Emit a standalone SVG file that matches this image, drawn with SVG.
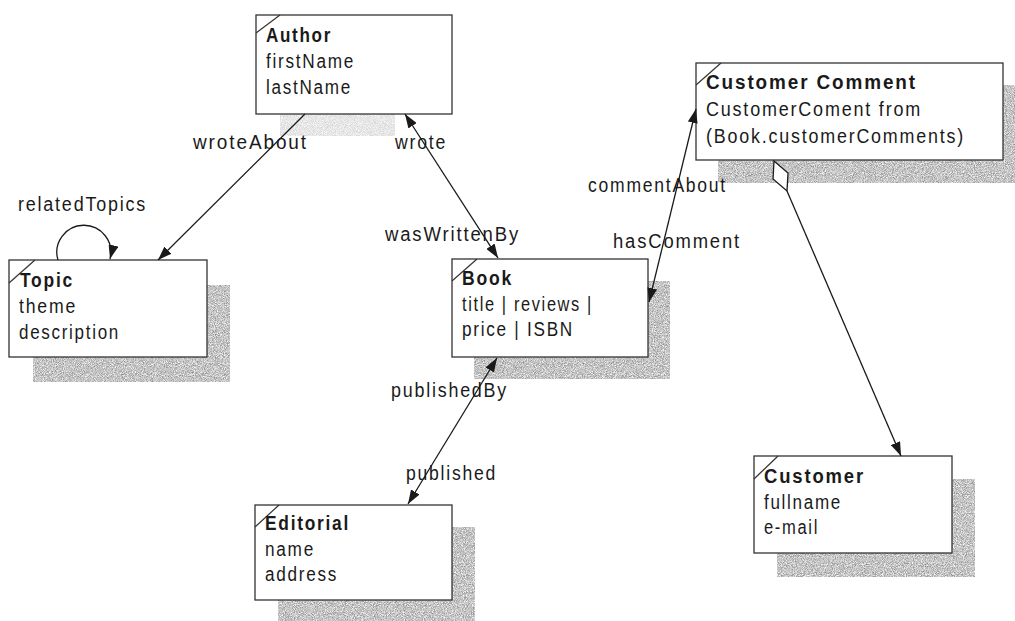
<svg xmlns="http://www.w3.org/2000/svg" width="1015" height="621" viewBox="0 0 1015 621">
  <style>
    text { font-family: "Liberation Sans", Arial, sans-serif; font-size: 20px; letter-spacing: 2px; fill: #1a1a1a; }
    .title { font-weight: bold; }
    .box { fill: #ffffff; stroke: #333333; stroke-width: 1.3; }
    .corner { stroke: #333333; stroke-width: 1.2; fill: none; }
    .shadow { fill: #000000; filter: url(#grain); }
    .edge { stroke: #1a1a1a; stroke-width: 1.3; fill: none; }
    .diamond { fill: #ffffff; stroke: #1a1a1a; stroke-width: 1.3; }
  </style>
  <defs>
    <!-- stippled halftone texture for drop shadows -->
    <filter id="grain" x="0" y="0" width="100%" height="100%" color-interpolation-filters="sRGB">
      <feTurbulence type="fractalNoise" baseFrequency="1.1" numOctaves="2" seed="5" result="noise"/>
      <feColorMatrix in="noise" type="matrix" values="0.7 0 0 0 0.42  0.7 0 0 0 0.42  0.7 0 0 0 0.42  0 0 0 0 1" result="dots"/>
      <feComposite in="dots" in2="SourceGraphic" operator="in"/>
    </filter>
    <marker id="arrow" viewBox="0 0 14 10" refX="14" refY="5" markerWidth="14" markerHeight="10" markerUnits="userSpaceOnUse" orient="auto-start-reverse">
      <path d="M0,0 L14,5 L0,10 z" fill="#1a1a1a"/>
    </marker>
  </defs>

  <rect width="1015" height="621" fill="#ffffff"/>

  <!-- Author -->
  <g id="author">
    <rect class="shadow" x="280" y="114" width="115" height="22" opacity="0.4"/>
    <rect class="box" x="256" y="15" width="196" height="99"/>
    <line class="corner" x1="256" y1="33" x2="280" y2="15"/>
    <text class="title" x="266" y="42" textLength="66" lengthAdjust="spacingAndGlyphs">Author</text>
    <text x="266" y="68" textLength="89" lengthAdjust="spacingAndGlyphs">firstName</text>
    <text x="266" y="94" textLength="86" lengthAdjust="spacingAndGlyphs">lastName</text>
  </g>

  <!-- Topic -->
  <g id="topic">
    <rect class="shadow" x="33" y="285" width="197" height="97"/>
    <rect class="box" x="9" y="260" width="198" height="97"/>
    <line class="corner" x1="9" y1="283" x2="35" y2="260"/>
    <text class="title" x="20" y="287" textLength="54" lengthAdjust="spacingAndGlyphs">Topic</text>
    <text x="19" y="313" textLength="58" lengthAdjust="spacingAndGlyphs">theme</text>
    <text x="19" y="339" textLength="101" lengthAdjust="spacingAndGlyphs">description</text>
  </g>

  <!-- Book -->
  <g id="book">
    <rect class="shadow" x="474" y="281" width="196" height="98"/>
    <rect class="box" x="452" y="259" width="196" height="98"/>
    <line class="corner" x1="452" y1="281" x2="477" y2="259"/>
    <text class="title" x="462" y="285" textLength="51" lengthAdjust="spacingAndGlyphs">Book</text>
    <text x="462" y="311" textLength="131" lengthAdjust="spacingAndGlyphs">title | reviews |</text>
    <text x="462" y="336" textLength="112" lengthAdjust="spacingAndGlyphs">price | ISBN</text>
  </g>

  <!-- Customer Comment -->
  <g id="customer-comment">
    <rect class="shadow" x="718" y="85" width="300" height="98"/>
    <rect class="box" x="696" y="63" width="307" height="97"/>
    <line class="corner" x1="696" y1="85" x2="721" y2="63"/>
    <text class="title" x="706" y="89" textLength="211" lengthAdjust="spacingAndGlyphs">Customer Comment</text>
    <text x="706" y="116" textLength="216" lengthAdjust="spacingAndGlyphs">CustomerComent from</text>
    <text x="706" y="143" textLength="259" lengthAdjust="spacingAndGlyphs">(Book.customerComments)</text>
  </g>

  <!-- Editorial -->
  <g id="editorial">
    <rect class="shadow" x="278" y="527" width="197" height="94"/>
    <rect class="box" x="255" y="505" width="197" height="95"/>
    <line class="corner" x1="255" y1="527" x2="279" y2="505"/>
    <text class="title" x="265" y="530" textLength="85" lengthAdjust="spacingAndGlyphs">Editorial</text>
    <text x="265" y="556" textLength="50" lengthAdjust="spacingAndGlyphs">name</text>
    <text x="265" y="581" textLength="73" lengthAdjust="spacingAndGlyphs">address</text>
  </g>

  <!-- Customer -->
  <g id="customer">
    <rect class="shadow" x="777" y="479" width="198" height="98"/>
    <rect class="box" x="754" y="456" width="198" height="97"/>
    <line class="corner" x1="754" y1="479" x2="778" y2="456"/>
    <text class="title" x="764" y="483" textLength="101" lengthAdjust="spacingAndGlyphs">Customer</text>
    <text x="764" y="509" textLength="78" lengthAdjust="spacingAndGlyphs">fullname</text>
    <text x="764" y="534" textLength="55" lengthAdjust="spacingAndGlyphs">e-mail</text>
  </g>

  <!-- Connectors -->
  <g id="connectors">
    <line class="edge" x1="305" y1="114" x2="158" y2="260" marker-end="url(#arrow)"/>
    <line class="edge" x1="405" y1="114" x2="498" y2="258" marker-start="url(#arrow)" marker-end="url(#arrow)"/>
    <path class="edge" d="M58,260 A27,27 0 1 1 110,259" marker-end="url(#arrow)"/>
    <line class="edge" x1="696" y1="109" x2="649" y2="302" marker-start="url(#arrow)" marker-end="url(#arrow)"/>
    <line class="edge" x1="497" y1="358" x2="408" y2="504" marker-start="url(#arrow)" marker-end="url(#arrow)"/>
    <polygon class="diamond" points="774,161 788,173 787,191 773,179"/>
    <line class="edge" x1="787" y1="191" x2="901" y2="456" marker-end="url(#arrow)"/>

    <text x="18" y="211" textLength="129" lengthAdjust="spacingAndGlyphs">relatedTopics</text>
    <text x="193" y="149" textLength="115" lengthAdjust="spacingAndGlyphs">wroteAbout</text>
    <text x="395" y="149" textLength="52" lengthAdjust="spacingAndGlyphs">wrote</text>
    <text x="385" y="241" textLength="135" lengthAdjust="spacingAndGlyphs">wasWrittenBy</text>
    <text x="588" y="192" textLength="139" lengthAdjust="spacingAndGlyphs">commentAbout</text>
    <text x="613" y="248" textLength="128" lengthAdjust="spacingAndGlyphs">hasComment</text>
    <text x="391" y="397" textLength="117" lengthAdjust="spacingAndGlyphs">publishedBy</text>
    <text x="406" y="480" textLength="91" lengthAdjust="spacingAndGlyphs">published</text>
  </g>
</svg>
